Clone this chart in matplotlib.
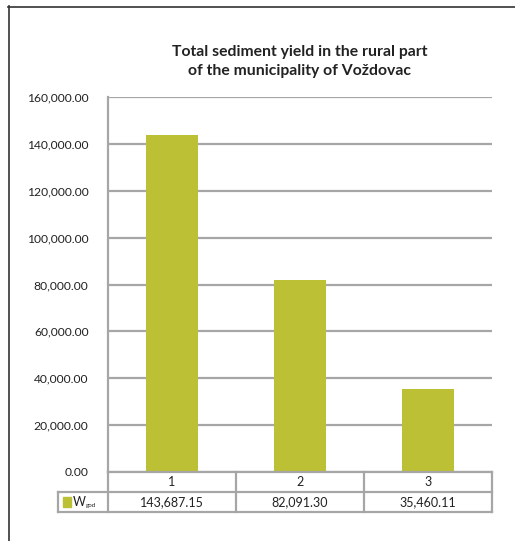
import matplotlib
matplotlib.use("Agg")
import matplotlib.pyplot as plt
from matplotlib.lines import Line2D
from matplotlib.patches import Rectangle

# data
categories = ["1", "2", "3"]
values = [143687.15, 82091.30, 35460.11]
series_main, series_sub = "W", "god"
yticks = [0, 20000, 40000, 60000, 80000, 100000, 120000, 140000, 160000]
title = "Total sediment yield in the rural part\nof the municipality of Voždovac"

W, H = 515, 541
bar_color = "#BBC034"
grid_color = "#A6A6A6"

plt.rcParams['font.family'] = ['Lato', 'DejaVu Sans']

fig = plt.figure(figsize=(W / 100, H / 100), dpi=100)

def fx(px):
    return px / W

def fy(py):
    return 1 - py / H

left, right, top, bottom = 108, 492, 97, 472
ax = fig.add_axes([fx(left), fy(bottom), fx(right - left), fy(top) - fy(bottom)])

xpos = list(range(len(categories)))
ax.bar(xpos, values, width=0.4, color=bar_color, zorder=3)
ax.set_xlim(-0.5, len(categories) - 0.5)
ax.set_ylim(0, 160000)
ax.set_yticks(yticks)
ax.set_yticklabels(["{:,.2f}".format(v) for v in yticks], fontsize=8.7, color="#222222")
ax.tick_params(axis='y', length=0, pad=14)
ax.set_xticks([])
ax.grid(axis='y', color=grid_color, linewidth=1.6, zorder=0)
for s in ["top", "right", "bottom"]:
    ax.spines[s].set_visible(False)
ax.spines["left"].set_color(grid_color)
ax.spines["left"].set_linewidth(1.6)
ax.set_title(title, fontsize=11.3, fontweight="bold", pad=16, linespacing=1.4, color="#222222")

# data table below the plot
row1_top, row1_bot, row2_bot = 472, 492, 512
leg_left = 58
col_w = (right - left) / len(categories)
lw = 1.6
# horizontal lines
fig.add_artist(Line2D([fx(left), fx(right)], [fy(row1_top)] * 2, color=grid_color, lw=lw))
fig.add_artist(Line2D([fx(leg_left), fx(right)], [fy(row1_bot)] * 2, color=grid_color, lw=lw))
fig.add_artist(Line2D([fx(leg_left), fx(right)], [fy(row2_bot)] * 2, color=grid_color, lw=lw))
# vertical lines
for i in range(len(categories) + 1):
    x = left + i * col_w
    fig.add_artist(Line2D([fx(x)] * 2, [fy(row1_top), fy(row2_bot)], color=grid_color, lw=lw))
fig.add_artist(Line2D([fx(leg_left)] * 2, [fy(row1_bot), fy(row2_bot)], color=grid_color, lw=lw))

for i, (c, v) in enumerate(zip(categories, values)):
    cx = left + (i + 0.5) * col_w
    fig.text(fx(cx), fy((row1_top + row1_bot) / 2), c, ha="center", va="center",
             fontsize=9, color="#222222")
    fig.text(fx(cx), fy((row1_bot + row2_bot) / 2), "{:,.2f}".format(v), ha="center", va="center",
             fontsize=9, color="#222222")

# legend key
fig.add_artist(Rectangle((fx(63), fy(507)), fx(8), fy(497) - fy(507), color=bar_color))
fig.text(fx(73), fy(502), series_main, ha="left", va="center", fontsize=9, color="#222222")
fig.text(fx(85.5), fy(505.5), series_sub, ha="left", va="center", fontsize=4.5, color="#222222")

# outer border of the chart object
fig.add_artist(Line2D([fx(8), fx(W)], [fy(6.5)] * 2, color="#333333", lw=1.2))
fig.add_artist(Line2D([fx(8.5)] * 2, [fy(6), fy(H)], color="#333333", lw=1.2))

fig.savefig("out.png", dpi=100)
